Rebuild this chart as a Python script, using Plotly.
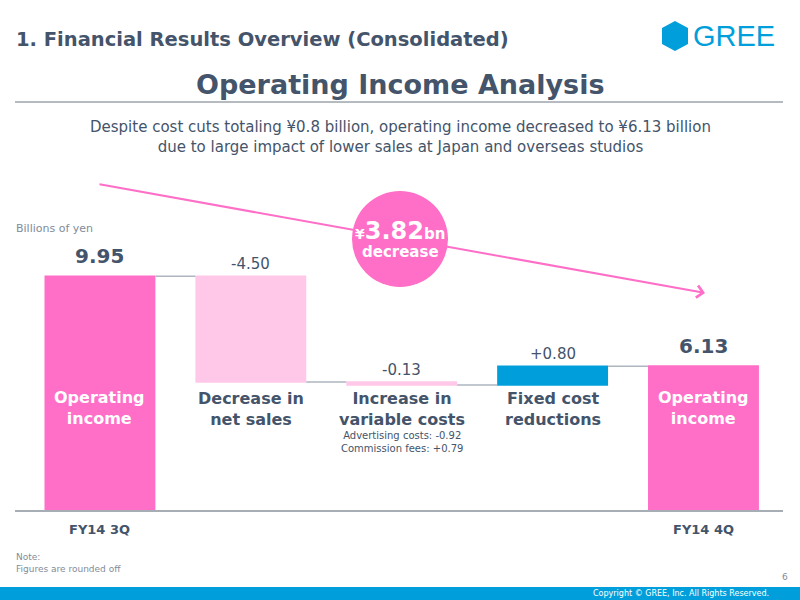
import plotly.graph_objects as go

# ---- data ----
categories = ["FY14 3Q", "Decrease in net sales", "Increase in variable costs", "Fixed cost reductions", "FY14 4Q"]
values = [9.95, -4.50, -0.13, 0.80, 6.13]
measures = ["absolute", "relative", "relative", "relative", "absolute"]
value_labels = ["9.95", "-4.50", "-0.13", "+0.80", "6.13"]
bar_names = ["Operating<br>income", "Decrease in<br>net sales", "Increase in<br>variable costs",
             "Fixed cost<br>reductions", "Operating<br>income"]
period_labels = {0: "FY14 3Q", 4: "FY14 4Q"}

PINK = "#FF6EC7"
LIGHT_PINK = "#FFC8E8"
BLUE = "#009FDB"
DARK = "#44546A"
GRAY = "#7F8C9A"
FONT = "DejaVu Sans"

W, H = 800, 600
def px(x): return x / W
def py(y): return 1 - y / H

xs = list(range(len(values)))

fig = go.Figure(go.Waterfall(
    x=xs, y=values, measure=measures,
    width=0.735,
    totals=dict(marker=dict(color=PINK)),
    decreasing=dict(marker=dict(color=LIGHT_PINK)),
    increasing=dict(marker=dict(color=BLUE)),
    connector=dict(mode="between", line=dict(color="#AEB6BF", width=1.5)),
    hoverinfo="skip", textinfo="none",
))

annotations = []
# value labels above bars
running = 0.0
for i, (v, m, lab) in enumerate(zip(values, measures, value_labels)):
    if m == "absolute":
        start, end = 0.0, v
    else:
        start, end = running, running + v
    running = end
    top = max(start, end)
    bold = m == "absolute"
    annotations.append(dict(
        x=i, y=top, xref="x", yref="y", text=f"<b>{lab}</b>" if bold else lab,
        showarrow=False, yanchor="middle", yshift=20 if bold else 12,
        font=dict(family=FONT, size=20 if bold else 15, color=DARK)))

# bar names
for i, name in enumerate(bar_names):
    white = measures[i] == "absolute"
    annotations.append(dict(
        x=i, xref="x", y=py(408 if white else 409), yref="paper", text=f"<b>{name}</b>",
        showarrow=False, yanchor="middle",
        font=dict(family=FONT, size=16, color="white" if white else DARK)))
annotations.append(dict(x=2, xref="x", y=py(442), yref="paper",
                        text="Advertising costs: -0.92<br>Commission fees: +0.79",
                        showarrow=False, yanchor="middle",
                        font=dict(family=FONT, size=10, color=DARK)))
for i, lab in period_labels.items():
    annotations.append(dict(x=i, xref="x", y=py(529), yref="paper", text=f"<b>{lab}</b>",
                            showarrow=False, yanchor="middle",
                            font=dict(family=FONT, size=13, color=DARK)))

# header texts
annotations += [
    dict(x=px(14), y=py(40), xref="paper", yref="paper", xanchor="left", yanchor="middle",
         text="<b>1. Financial Results Overview (Consolidated)</b>", showarrow=False,
         font=dict(family=FONT, size=19.5, color=DARK)),
    dict(x=px(691), y=py(36), xref="paper", yref="paper", xanchor="left", yanchor="middle",
         text="GREE", showarrow=False, font=dict(family="Liberation Sans", size=29, color=BLUE)),
    dict(x=0.5, y=py(84), xref="paper", yref="paper", yanchor="middle",
         text="<b>Operating Income Analysis</b>", showarrow=False,
         font=dict(family=FONT, size=27, color=DARK)),
    dict(x=0.5, y=py(137), xref="paper", yref="paper", yanchor="middle",
         text="Despite cost cuts totaling ¥0.8 billion, operating income decreased to ¥6.13 billion<br>"
              "due to large impact of lower sales at Japan and overseas studios",
         showarrow=False, font=dict(family=FONT, size=15, color=DARK)),
    dict(x=px(14), y=py(228), xref="paper", yref="paper", xanchor="left", yanchor="middle",
         text="Billions of yen", showarrow=False, font=dict(family=FONT, size=11, color=GRAY)),
    # arrow
    dict(x=px(705), y=py(293), ax=98 - 705, ay=184 - 293, xref="paper", yref="paper",
         axref="pixel", ayref="pixel", showarrow=True, arrowhead=4, arrowsize=1.2,
         arrowwidth=2, arrowcolor=PINK, text=""),
    dict(x=px(400), y=py(231), xref="paper", yref="paper", yanchor="middle",
         text="<b><span style='font-size:14px'>¥</span>3.82<span style='font-size:15px'>bn</span></b>",
         showarrow=False, font=dict(family=FONT, size=24, color="white")),
    dict(x=px(400), y=py(252), xref="paper", yref="paper", yanchor="middle",
         text="<b>decrease</b>", showarrow=False, font=dict(family=FONT, size=15, color="white")),
    dict(x=px(14), y=py(563), xref="paper", yref="paper", xanchor="left", yanchor="middle",
         text="Note:<br>Figures are rounded off", showarrow=False, align="left",
         font=dict(family=FONT, size=9, color=GRAY)),
    dict(x=px(790), y=py(577), xref="paper", yref="paper", xanchor="right", yanchor="middle",
         text="6", showarrow=False, font=dict(family=FONT, size=9, color=GRAY)),
    dict(x=px(771), y=py(593), xref="paper", yref="paper", xanchor="right", yanchor="middle",
         text="Copyright © GREE, Inc. All Rights Reserved.", showarrow=False,
         font=dict(family=FONT, size=8, color="white")),
]

shapes = [
    dict(type="line", xref="paper", yref="paper", x0=px(15), x1=px(783), y0=py(102), y1=py(102),
         line=dict(color="#6B7682", width=1)),
    dict(type="path", xref="paper", yref="paper",
         path=f"M {px(675)} {py(21)} L {px(688)} {py(28)} L {px(688)} {py(44)} L {px(675)} {py(51)} "
              f"L {px(662)} {py(44)} L {px(662)} {py(28)} Z",
         fillcolor=BLUE, line=dict(width=0)),
    dict(type="rect", xref="paper", yref="paper", x0=0, x1=1, y0=0, y1=py(587),
         fillcolor=BLUE, line=dict(width=0), layer="below"),
    dict(type="circle", xref="paper", yref="paper", x0=px(352), x1=px(448), y0=py(287), y1=py(191),
         fillcolor=PINK, line=dict(width=0), layer="above"),
]

fig.update_layout(
    width=W, height=H, margin=dict(l=0, r=0, t=0, b=0),
    paper_bgcolor="white", plot_bgcolor="white", showlegend=False,
    xaxis=dict(domain=[px(15), px(783)], range=[-0.563, 4.527], showgrid=False, zeroline=False,
               showticklabels=False, ticks="", showline=True, linecolor="#A6ADB4", linewidth=2),
    yaxis=dict(domain=[py(510), py(210)], range=[0, 12.766], showgrid=False, zeroline=False,
               showticklabels=False, ticks="", showline=False),
    annotations=annotations, shapes=shapes,
)

fig.write_html("out.html")
